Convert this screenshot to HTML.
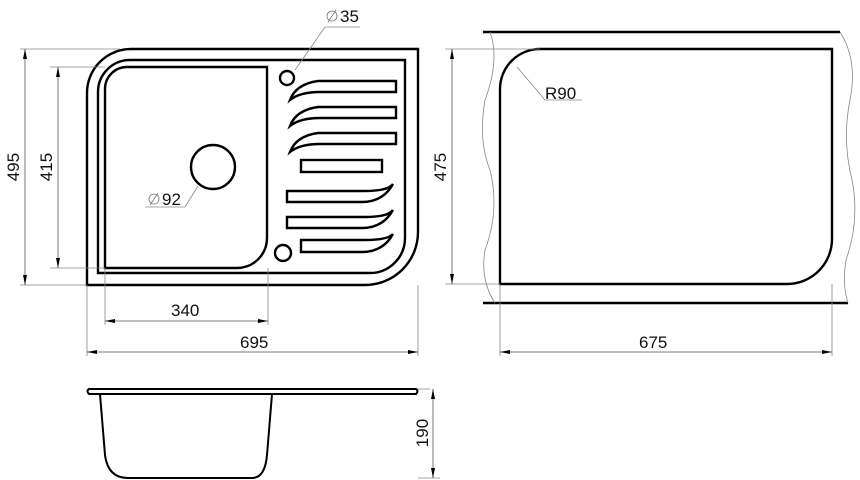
<!DOCTYPE html>
<html><head><style>body{margin:0;background:#fff}svg{display:block}text{font-family:"Liberation Sans",sans-serif;fill:#111}</style></head><body>
<svg width="860" height="480" viewBox="0 0 860 480" xmlns="http://www.w3.org/2000/svg">
<defs><marker id="a" viewBox="0 0 10 4" refX="10" refY="2" markerWidth="12" markerHeight="4" orient="auto-start-reverse" markerUnits="userSpaceOnUse"><path d="M0,0L10,2L0,4z" fill="#000"/></marker></defs>
<g fill="none" stroke="#000" stroke-width="2.4">
<path d="M87,285V93A44,44 0 0 1 131,49H418V232A53,53 0 0 1 365,285Z"/>
<path d="M98,273V92A32,32 0 0 1 130,60H405V238A35,35 0 0 1 370,273Z"/>
<path d="M105,268V89A22,22 0 0 1 127,67H267V238A30,30 0 0 1 237,268Z"/>
<circle cx="213" cy="167" r="22"/>
<circle cx="287" cy="78" r="7"/>
<circle cx="283" cy="253" r="8"/>
<path d="M396,81V92H320Q300,92 290,100Q296,84 318,81Z"/>
<path d="M396,107V118H320Q300,118 290,126Q296,110 318,107Z"/>
<path d="M396,133V144H320Q300,144 290,152Q296,136 318,133Z"/>
<rect x="301" y="160" width="81" height="12"/>
<path d="M287,191V202H362Q383,202 393,184Q388,191 365,191Z"/>
<path d="M287,217V228H362Q383,228 393,210Q388,217 365,217Z"/>
<path d="M301,240V252H362Q383,252 393,234Q388,240 365,240Z"/>
<path d="M500,284V89A40,40 0 0 1 540,49H832V239A45,45 0 0 1 787,284Z"/>
<path d="M89,389H416Q419,391 416,394H89Q86,391 89,389Z" stroke-width="2"/>
<path d="M100,394L105,455Q108,478 128,478H252Q265,478 267,455L272,394" stroke-width="2"/>
<path d="M483,32H840M483,303H848" stroke-width="2.4"/>
</g>
<g fill="none" stroke="#888" stroke-width="0.8">
<path d="M490,32Q500,60 485,100Q478,140 490,170Q500,210 485,250Q480,280 495,303"/>
<path d="M840,32Q858,60 850,100Q842,140 852,180Q860,220 846,260Q842,285 848,303"/>
<path d="M20,49H120M50,67H105M20,285H87M50,268H105M105,268V325M268,268V325M87,285V356M418,285V356M430,389H418M418,478H440M445,49H540M445,284H500M500,284V356M832,284V356"/>
<path d="M295,70L325,27H360M198,186L185,207H145M517,67L545,100H582"/>
</g>
<g stroke="#555" stroke-width="0.8" marker-start="url(#a)" marker-end="url(#a)">
<line x1="25" y1="49" x2="25" y2="285"/><line x1="58" y1="67" x2="58" y2="268"/>
<line x1="105" y1="321" x2="268" y2="321"/><line x1="87" y1="352" x2="418" y2="352"/>
<line x1="433" y1="389" x2="433" y2="478"/><line x1="452" y1="49" x2="452" y2="284"/>
<line x1="500" y1="352" x2="832" y2="352"/>
</g>
<g font-size="17">
<text x="171" y="316">340</text><text x="240" y="348">695</text><text x="639" y="348">675</text>
<text x="545" y="99">R90</text><text x="340" y="22">35</text><text x="162" y="205">92</text>
<text transform="translate(19,167) rotate(-90)" text-anchor="middle">495</text>
<text transform="translate(52,167) rotate(-90)" text-anchor="middle">415</text>
<text transform="translate(446,167) rotate(-90)" text-anchor="middle">475</text>
<text transform="translate(428,433) rotate(-90)" text-anchor="middle">190</text>
</g>
<g fill="none" stroke="#777" stroke-width="0.8"><circle cx="332" cy="16" r="5"/><line x1="328" y1="22" x2="336" y2="10"/><circle cx="154" cy="199" r="5"/><line x1="150" y1="205" x2="158" y2="193"/></g>
</svg></body></html>
